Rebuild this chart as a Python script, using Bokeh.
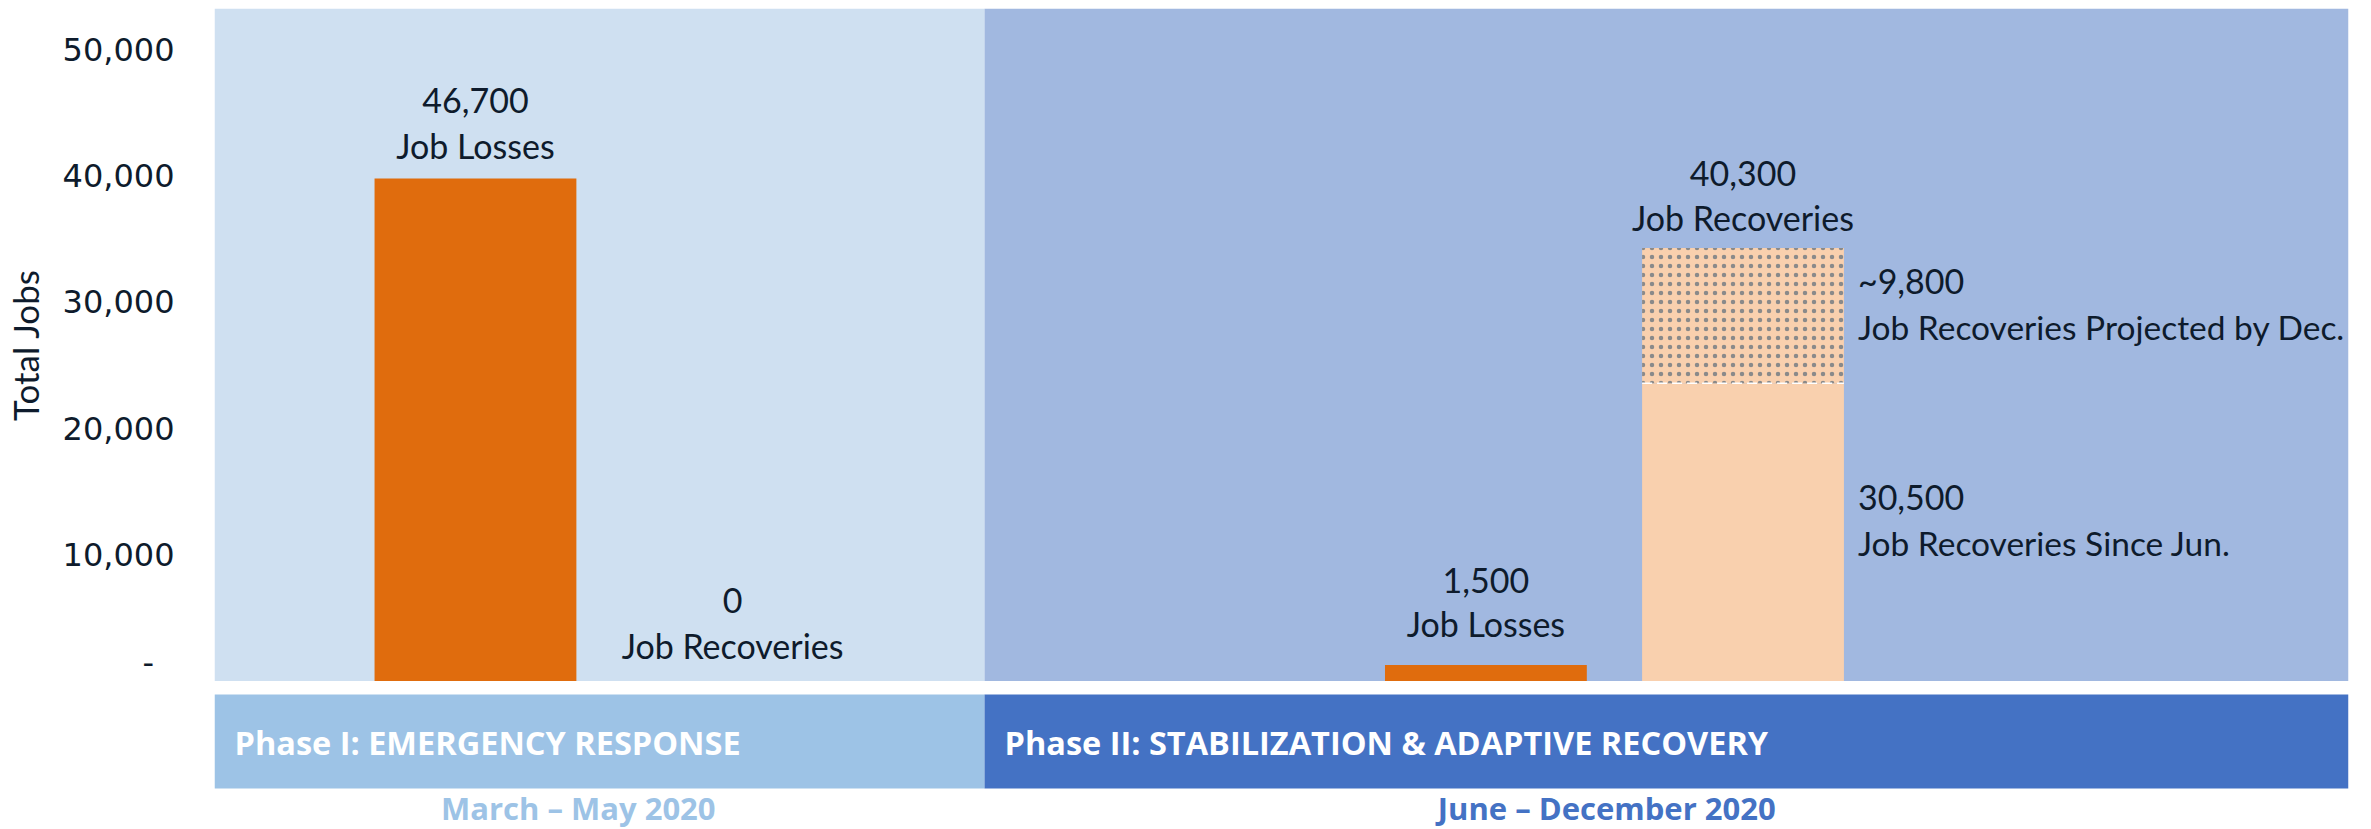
from bokeh.plotting import figure
from bokeh.models import Range1d, FixedTicker, NumeralTickFormatter, ColumnDataSource
from bokeh.layouts import column
from bokeh.embed import file_html
from bokeh.resources import INLINE
from bokeh.core.properties import value

# ---------------- data ----------------
phase_names = ["Phase I: EMERGENCY RESPONSE", "Phase II: STABILIZATION & ADAPTIVE RECOVERY"]
phase_periods = ["March \u2013 May 2020", "June \u2013 December 2020"]
phase_bounds = [-0.015, 2.98, 8.285]          # x extent of each phase
period_x = [1.40, 5.40]                        # where each period caption sits

categories = ["Phase I Job Losses", "Phase I Job Recoveries",
              "Phase II Job Losses", "Phase II Job Recoveries"]
cat_x = [1, 2, 4.93, 5.93]
bar_values = [39800, 0, 1300, 23600]           # drawn bar heights
bar_kind = ["loss", "recovery", "loss", "recovery"]
value_labels = ["46,700", "0", "1,500", "40,300"]
name_labels = ["Job Losses", "Job Recoveries", "Job Losses", "Job Recoveries"]

projected_base = [23600]                       # projected recoveries segment (drawn)
projected_top = [34300]
segment_values = ["~9,800", "30,500"]
segment_names = ["Job Recoveries Projected by Dec.", "Job Recoveries Since Jun."]

y_ticks = [0, 10000, 20000, 30000, 40000, 50000]
y_max = 53250

# ---------------- style ----------------
TEXT = "#0E1B2C"
ORANGE = "#E06C0D"
PEACH = "#F9D0AE"
PANEL = ["#CFE0F1", "#A1B8E0"]
BAND = ["#9DC3E6", "#4472C4"]
BAR_W = 0.785
LABEL_FONT = value("Lato")
LABEL_SIZE = "34px"
num_offsets = [-78, -81, -85, -74]
name_offsets = [-33, -36, -42, -30]

W = 2371
p = figure(width=W, height=681, x_range=Range1d(phase_bounds[0], phase_bounds[-1]),
           y_range=Range1d(0, y_max), output_backend="svg", toolbar_location=None,
           x_axis_location=None, min_border_left=213, min_border_right=23,
           min_border_top=8, min_border_bottom=0)
p.xgrid.visible = False
p.ygrid.visible = False
p.outline_line_color = None
p.background_fill_color = "white"
p.border_fill_color = "white"

# phase background panels
p.quad(left=phase_bounds[:-1], right=phase_bounds[1:], bottom=0, top=y_max,
       fill_color=PANEL, line_color=None)

# bars
colors = [ORANGE if k == "loss" else PEACH for k in bar_kind]
src = ColumnDataSource(dict(x=cat_x, top=bar_values, color=colors))
p.vbar(x="x", top="top", width=BAR_W, fill_color="color", line_color=None, source=src)

# projected recoveries (dotted)
px = [cat_x[3]]
p.vbar(x=px, bottom=projected_base, top=projected_top, width=BAR_W,
       fill_color=PEACH, line_color=None, hatch_pattern="dot", hatch_color="#8A8A8A",
       hatch_scale=9, hatch_weight=0.4)
p.segment(x0=[cat_x[3] - BAR_W / 2], x1=[cat_x[3] + BAR_W / 2],
          y0=projected_base, y1=projected_base, line_color="white",
          line_dash="10 5", line_width=1.5)

# labels above bars
label_tops = [max(b, t) for b, t in zip(bar_values, [0, 0, 0, projected_top[0]])]
src2 = ColumnDataSource(dict(x=cat_x, y=label_tops, vlab=value_labels, nlab=name_labels,
                             vo=num_offsets, no=name_offsets))
p.text(x="x", y="y", text="vlab", source=src2, y_offset="vo", text_align="center",
       text_baseline="middle", text_font=LABEL_FONT, text_font_size=LABEL_SIZE, text_color=TEXT)
p.text(x="x", y="y", text="nlab", source=src2, y_offset="no", text_align="center",
       text_baseline="middle", text_font=LABEL_FONT, text_font_size=LABEL_SIZE, text_color=TEXT)

# labels beside stacked segments
seg_mid = [(projected_base[0] + projected_top[0]) / 2, projected_base[0] / 2]
sx = [cat_x[3] + BAR_W / 2] * 2
p.text(x=sx, y=seg_mid, text=segment_values, x_offset=14, y_offset=-35,
       text_align="left", text_baseline="middle", text_font=LABEL_FONT,
       text_font_size=LABEL_SIZE, text_color=TEXT)
p.text(x=sx, y=seg_mid, text=segment_names, x_offset=14, y_offset=11,
       text_align="left", text_baseline="middle", text_font=LABEL_FONT,
       text_font_size="33.5px", text_color=TEXT)

# y axis
ax = p.yaxis[0]
ax.ticker = FixedTicker(ticks=y_ticks)
ax.formatter = NumeralTickFormatter(format="0,0")
ax.major_label_overrides = {0: "-\u00a0\u00a0"}
ax.axis_line_color = None
ax.major_tick_line_color = None
ax.minor_tick_line_color = None
ax.major_tick_out = 0
ax.major_tick_in = 0
ax.major_label_standoff = 40
ax.major_label_text_font = "DejaVu Sans"
ax.major_label_text_font_size = "32px"
ax.major_label_text_color = TEXT
ax.axis_label = "Total Jobs"
ax.axis_label_text_font = "Lato"
ax.axis_label_text_font_style = "normal"
ax.axis_label_text_font_size = "35px"
ax.axis_label_text_color = TEXT
ax.axis_label_standoff = 14

# ---------------- phase bands ----------------
p2 = figure(width=W, height=148, x_range=p.x_range, y_range=Range1d(148, 0),
            output_backend="svg", toolbar_location=None, x_axis_location=None,
            y_axis_location=None, min_border_left=213, min_border_right=23,
            min_border_top=0, min_border_bottom=0)
p2.xgrid.visible = False
p2.ygrid.visible = False
p2.outline_line_color = None
p2.background_fill_color = "white"
p2.border_fill_color = "white"

p2.quad(left=phase_bounds[:-1], right=phase_bounds[1:], top=13, bottom=107,
        fill_color=BAND, line_color=None)
p2.text(x=phase_bounds[:-1], y=[61, 61], text=phase_names, x_offset=20,
        text_align="left", text_baseline="middle", text_font=value("Open Sans"),
        text_font_style="bold", text_font_size="32.5px", text_color="white")
p2.text(x=period_x, y=[126, 126], text=phase_periods, text_align="center",
        text_baseline="middle", text_font=value("Open Sans"), text_font_style="bold",
        text_font_size="31px", text_color=BAND)

layout = column(p, p2, spacing=0)
open("out.html", "w").write(file_html(layout, INLINE))
